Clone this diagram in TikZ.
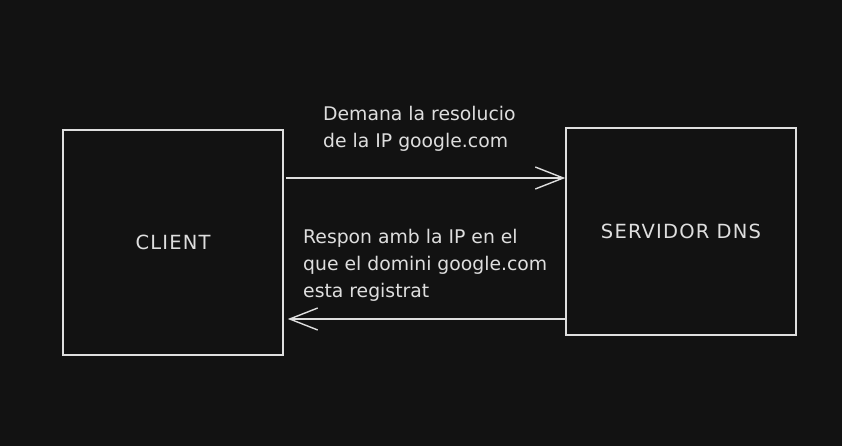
\documentclass[tikz,border=0pt]{standalone}
\usepackage{fontspec}
\setmainfont{DejaVu Sans}
\newfontfamily\boxfont[LetterSpace=6]{DejaVu Sans}
\usepackage{xcolor}
\usetikzlibrary{positioning,arrows.meta,calc}
\definecolor{canvas}{HTML}{121212}
\definecolor{chalk}{HTML}{DEDEDE}
\tikzset{
  box/.style={draw=chalk,line width=1.6pt,fill=canvas,text=chalk,align=center,font=\boxfont\fontsize{19.5}{22}\selectfont},
  arrow/.style={-{Straight Barb[length=28pt,width=22pt,line width=1.4pt]},draw=chalk,line width=1.4pt},
  msg/.style={text=chalk,align=left,anchor=north west,inner sep=0pt,font=\fontsize{18.8}{27}\selectfont}
}

\begin{document}
\begin{tikzpicture}[x=1pt,y=-1pt]
  \fill[canvas] (0,0) rectangle (842,446);
  \node[box,minimum width=220pt,minimum height=225pt] (client) at (173,242.5) {CLIENT};
  \node[box,minimum width=230pt,minimum height=207pt] (servidor) at (681,231.5) {SERVIDOR DNS};
  \coordinate (req) at (0,178);
  \coordinate (resp) at (0,319);
  \draw[arrow] ([xshift=2pt]client.east |- req) -- (servidor.west |- req);
  \draw[arrow] (servidor.west |- resp) -- ([xshift=4pt]client.east |- resp);
  \node[msg] (reqtext) at (323,106) {Demana la resolucio\\de la IP google.com};
  \node[msg] (resptext) at (303,229) {Respon amb la IP en el\\que el domini google.com\\esta registrat};
\end{tikzpicture}
\end{document}
